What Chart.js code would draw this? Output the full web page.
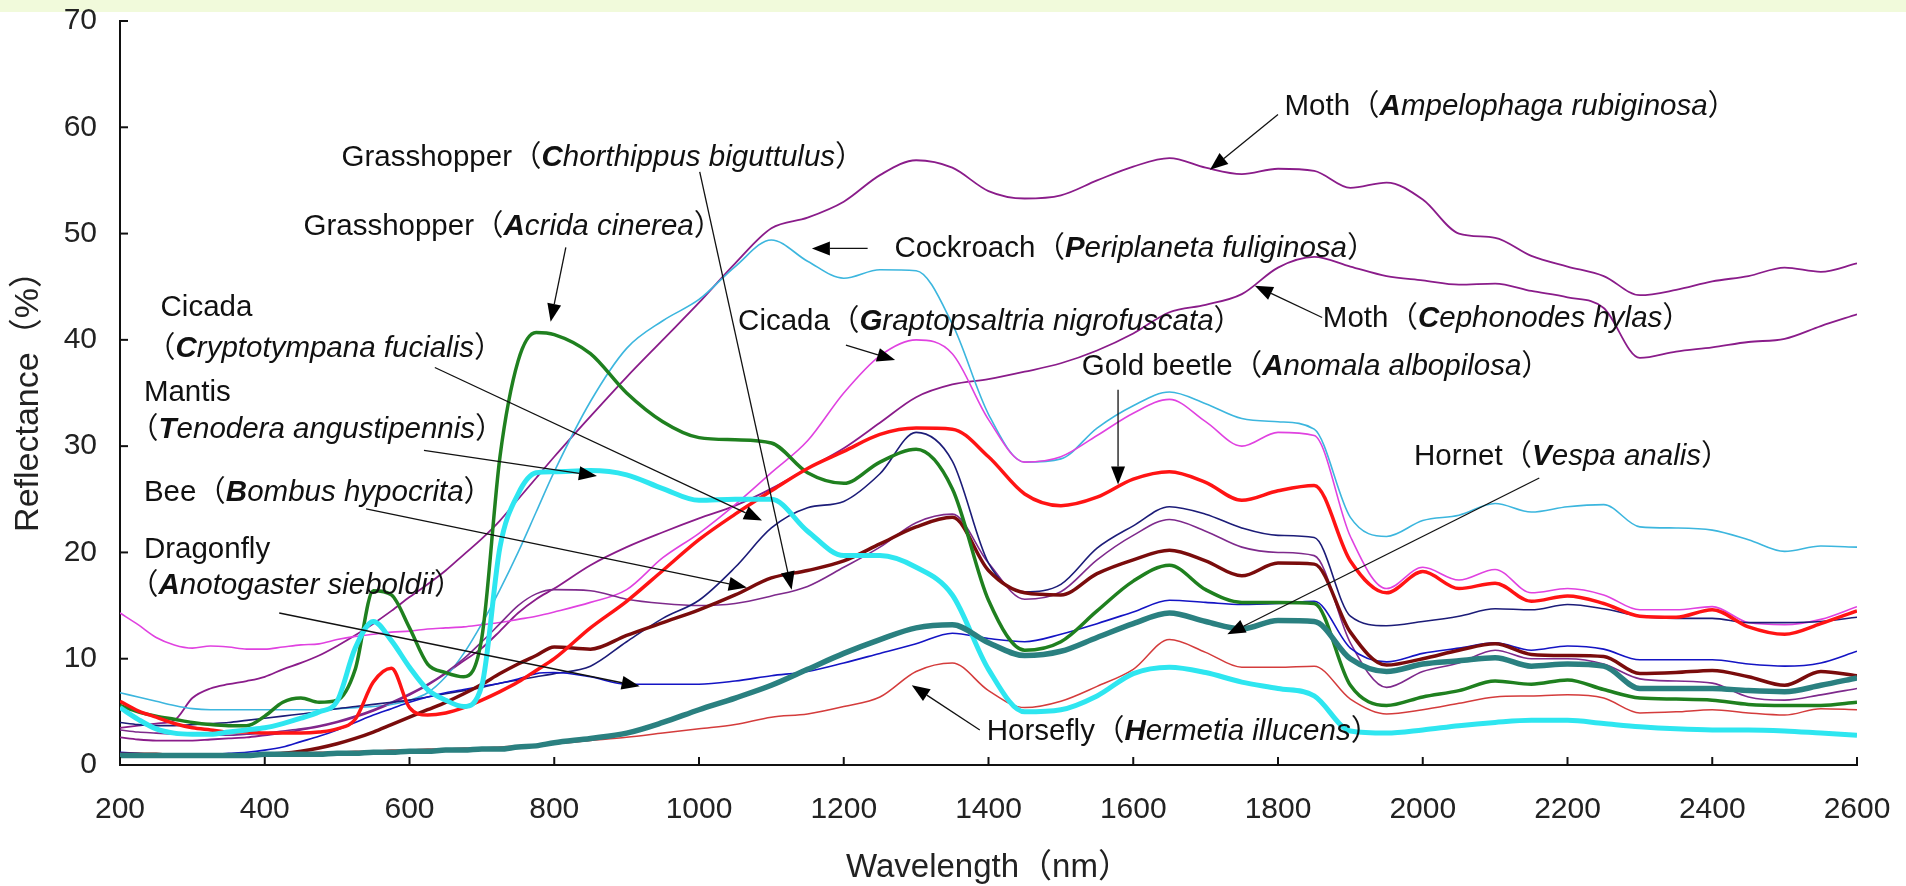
<!DOCTYPE html>
<html><head><meta charset="utf-8">
<script src="https://cdn.jsdelivr.net/npm/chart.js@4.4.1/dist/chart.umd.min.js"></script>
<style>
html,body{margin:0;padding:0;background:#ffffff;overflow:hidden;}
#band{position:absolute;left:0;top:0;width:1906px;height:12px;background:#f1fadb;z-index:0;}
#wrap{position:absolute;left:0;top:0;width:1906px;height:886px;z-index:1;}
</style></head><body>
<div id="band"></div>
<div id="wrap"><canvas id="c" width="1906" height="886"></canvas></div>
<script>
const wavelengths = [200,225,250,275,300,325,350,375,400,425,450,475,500,525,550,575,600,625,650,675,700,725,750,775,800,850,900,950,1000,1050,1100,1150,1200,1250,1300,1350,1400,1450,1500,1550,1600,1650,1700,1750,1800,1850,1900,1950,2000,2050,2100,2150,2200,2250,2300,2350,2400,2450,2500,2550,2600];
const xTicks = [200,400,600,800,1000,1200,1400,1600,1800,2000,2200,2400,2600];
const yTicks = [0,10,20,30,40,50,60,70];

const mothAmpelophaga = [3.5,3.7,3.9,4.2,6.3,7.2,7.6,7.9,8.3,9.0,9.6,10.3,11.2,12.2,13.3,14.5,15.8,17.0,18.3,19.8,21.3,23.0,25.0,27.0,29.0,32.8,36.5,40.0,43.5,47.2,50.5,51.5,53.0,55.5,56.9,56.2,54.0,53.3,53.6,55.0,56.3,57.1,56.2,55.6,56.1,55.9,54.3,54.8,53.2,50.0,49.6,47.9,46.9,46.0,44.2,44.7,45.5,46.0,46.8,46.4,47.2];
const mothCephonodes = [2.6,2.4,2.3,2.3,2.3,2.4,2.5,2.6,2.8,3.0,3.3,3.6,4.0,4.5,5.1,5.8,6.6,7.5,8.6,9.8,11.0,12.6,14.3,15.6,16.6,18.8,20.5,21.9,23.2,24.4,26.0,27.9,29.8,32.2,34.6,35.8,36.3,37.0,37.8,39.0,40.6,42.6,43.3,44.3,46.8,47.8,46.9,46.0,45.6,45.2,45.3,44.6,44.0,43.0,38.3,38.9,39.3,39.8,40.1,41.3,42.4];
const cockroach = [6.8,6.4,6.0,5.6,5.3,5.2,5.2,5.2,5.2,5.2,5.2,5.2,5.3,5.4,5.5,5.7,6.1,6.8,8.3,10.5,13.3,16.5,20.0,23.8,27.6,34.2,39.2,41.8,43.8,46.9,49.4,47.4,45.8,46.6,46.5,41.5,33.0,28.5,28.8,31.7,33.8,35.1,34.0,32.6,32.3,31.6,23.3,21.5,23.0,23.5,24.6,23.8,24.3,24.5,22.4,22.3,22.1,21.2,20.1,20.6,20.5];
const cicadaGraptopsaltria = [14.3,13.2,12.0,11.3,11.0,11.2,11.1,10.9,10.9,11.1,11.3,11.4,11.8,12.1,12.3,12.5,12.6,12.8,12.9,13.0,13.2,13.4,13.7,14.0,14.4,15.3,16.5,19.5,21.8,24.5,27.5,30.5,35.0,38.5,40.0,38.7,32.5,28.5,29.0,31.0,33.1,34.4,32.3,30.0,31.3,31.0,21.5,16.6,18.6,17.4,18.4,16.2,16.6,16.0,14.6,14.6,14.9,13.4,13.2,13.7,14.9];
const goldBeetle = [6.0,5.1,4.5,3.9,3.5,3.3,3.1,3.1,3.0,3.0,3.0,3.1,3.4,4.3,7.8,9.1,5.4,4.7,4.9,5.4,6.1,6.9,7.8,8.9,10.0,12.9,15.4,18.3,21.2,23.6,25.8,27.9,29.5,31.1,31.7,31.6,29.0,25.5,24.4,25.2,26.9,27.6,26.6,24.9,25.8,26.3,19.2,16.2,18.2,16.6,17.1,15.4,15.9,15.2,14.0,13.9,14.6,13.0,12.3,13.3,14.5];
const grasshopperAcrida = [5.6,5.0,4.6,4.3,4.0,3.8,3.7,3.7,4.6,5.9,6.3,5.9,6.1,9.0,16.4,16.0,12.9,9.5,8.7,8.3,12.0,29.0,38.0,40.7,40.5,38.7,35.0,32.3,30.8,30.6,30.3,27.5,26.5,28.5,29.7,26.0,15.5,10.8,11.6,14.5,17.3,18.8,16.5,15.3,15.3,15.2,7.5,5.6,6.4,7.0,7.9,7.6,8.0,7.1,6.3,6.2,6.1,5.7,5.6,5.6,5.9];
const mantis = [5.4,4.3,3.4,3.0,2.9,2.9,3.1,3.3,3.5,3.9,4.4,5.0,6.0,11.0,13.5,11.7,9.2,7.1,6.1,5.5,7.5,20.5,25.5,27.5,27.6,27.7,27.3,26.0,24.9,25.0,25.0,22.0,19.7,19.7,18.6,16.0,9.0,5.0,5.2,6.5,8.6,9.2,8.7,7.8,7.2,6.5,3.2,3.0,3.3,3.7,4.0,4.2,4.2,3.9,3.6,3.4,3.3,3.3,3.2,3.0,2.8];
const cicadaCryptotympana = [4.0,3.8,3.7,3.7,3.8,3.9,4.0,4.2,4.4,4.6,4.8,5.0,5.3,5.5,5.7,5.9,6.1,6.4,6.7,7.0,7.3,7.7,8.0,8.3,8.6,9.3,11.6,13.8,15.5,18.6,22.3,24.2,24.8,27.4,31.3,28.6,19.0,16.3,17.0,20.4,22.5,24.3,23.6,22.3,21.6,21.4,14.0,13.1,13.5,14.0,14.7,14.6,15.1,14.7,14.0,13.8,13.8,13.4,13.4,13.5,13.9];
const grasshopperChorthippus = [3.3,3.1,3.0,2.9,2.8,2.8,2.8,2.9,3.0,3.2,3.4,3.7,4.1,4.6,5.2,5.9,6.7,7.6,8.7,10.0,11.6,13.3,15.0,16.1,16.5,16.4,15.6,15.2,15.0,15.2,15.9,16.8,18.6,20.5,22.8,23.6,19.0,15.6,16.3,19.3,21.6,23.1,22.0,20.5,20.0,19.7,11.5,7.3,8.8,9.6,10.8,10.0,10.0,9.5,8.1,7.9,7.7,6.4,6.1,6.6,7.2];
const bee = [1.0,1.0,1.0,0.9,0.9,0.9,0.9,0.9,1.0,1.1,1.3,1.6,2.0,2.5,3.1,3.8,4.5,5.2,5.9,6.7,7.6,8.6,9.5,10.3,11.1,10.9,12.2,13.4,14.6,16.0,17.6,18.3,19.2,20.8,22.4,23.3,18.3,16.2,16.0,18.0,19.3,20.2,19.2,17.8,19.0,18.9,12.5,9.4,10.0,10.8,11.4,10.4,10.3,10.2,8.6,8.7,8.9,8.3,7.5,8.8,8.4];
const hornet = [0.9,0.9,0.9,0.9,0.9,0.9,0.9,0.9,1.0,1.0,1.0,1.0,1.1,1.1,1.2,1.2,1.3,1.3,1.4,1.4,1.5,1.5,1.7,1.8,2.1,2.5,3.0,4.0,5.2,6.3,7.5,9.0,10.5,11.8,12.9,13.2,11.5,10.3,10.7,12.0,13.3,14.3,13.5,12.8,13.6,13.5,10.0,8.8,9.5,9.8,10.1,9.3,9.5,9.3,7.2,7.2,7.2,7.0,6.9,7.5,8.2];
const horsefly = [1.0,1.0,1.0,1.0,1.0,1.0,1.0,1.0,1.1,1.1,1.1,1.2,1.2,1.3,1.3,1.4,1.4,1.5,1.5,1.6,1.6,1.7,1.8,1.9,2.0,2.3,2.6,3.0,3.4,3.8,4.5,4.8,5.5,6.4,8.8,9.6,7.0,5.4,6.0,7.4,9.0,11.8,10.6,9.2,9.2,9.3,6.2,4.8,5.2,5.8,6.4,6.5,6.6,6.3,4.9,5.0,5.2,4.9,4.7,5.3,5.2];
const dragonfly = [1.2,1.1,1.0,1.0,1.0,1.0,1.1,1.2,1.4,1.7,2.2,2.7,3.3,4.0,4.7,5.3,5.9,6.4,6.8,7.1,7.4,7.7,8.1,8.6,8.7,8.3,7.6,7.6,7.6,7.9,8.4,8.8,9.6,10.5,11.4,12.4,11.9,11.6,12.3,13.3,14.4,15.5,15.3,15.1,15.2,15.4,11.0,9.7,10.5,11.0,11.5,10.8,11.2,10.9,9.9,9.9,9.9,9.5,9.3,9.6,10.7];

// label text, anchor [wavelength, reflectance]
const labelTexts = ['Grasshopper（Chorthippus biguttulus）','Grasshopper（Acrida cinerea）','Cicada','（Cryptotympana fucialis）','Mantis','（Tenodera angustipennis）','Bee（Bombus hypocrita）','Dragonfly','（Anotogaster sieboldii）','Cockroach（Periplaneta fuliginosa）','Cicada（Graptopsaltria nigrofuscata）','Moth（Ampelophaga rubiginosa）','Moth（Cephonodes hylas）','Gold beetle（Anomala albopilosa）','Hornet（Vespa analis）','Horsefly（Hermetia illucens）'];
const labelX = [506,453.5,256,236,233,212.5,233,233,212.5,1270,1054,1809,1862,1529,1988,1397.5];
const labelY = [57.1,50.6,43.0,39.2,35.0,31.5,25.6,20.2,16.9,48.6,41.7,61.9,42.0,37.5,29.0,3.1];
// arrows: from [x,y] -> tip [x,y] in data units
const arrowFromX = [1001,816,635,620,540,420,1233,1203,1800,1861,1579,2161,1388];
const arrowFromY = [55.8,48.7,37.4,29.6,24.1,14.3,48.6,39.5,61.2,42.1,35.3,27.0,3.3];
const arrowToX = [1128,795,1087,859,1066,918,1156,1271,1706,1768,1579,1730,1294];
const arrowToY = [16.5,41.7,23.0,27.2,16.7,7.4,48.6,38.1,56.0,45.1,26.4,12.3,7.5];

const FONT = '"Liberation Sans", "Noto Sans CJK JP", sans-serif';
const LABEL_SIZE = 29.5;

function pts(vals){ return wavelengths.map((w,i)=>({x:w,y:vals[i]})); }
function ds(vals,color,width){ return {data:pts(vals),borderColor:color,backgroundColor:color,borderWidth:width,pointRadius:0,fill:false,cubicInterpolationMode:'monotone'}; }

const datasets = [
  ds(hornet,'#2a8080',5.5),
  ds(mantis,'#2ee6f0',5),
  ds(goldBeetle,'#ff1414',3.5),
  ds(grasshopperAcrida,'#1f801f',3.5),
  ds(bee,'#7a0c0c',3.5),
  ds(horsefly,'#d43c3c',1.5),
  ds(dragonfly,'#1414c4',1.6),
  ds(cicadaCryptotympana,'#1c1c78',1.6),
  ds(grasshopperChorthippus,'#7e2a8c',1.6),
  ds(cicadaGraptopsaltria,'#e042e0',1.6),
  ds(cockroach,'#3cb6de',1.6),
  ds(mothCephonodes,'#8a1c8a',1.8),
  ds(mothAmpelophaga,'#8a1c8a',1.8)
];

function drawLabel(ctx,text,x,y){
  const m = text.match(/^(.*?)（(.*)）$/);
  const segs = [];
  if(m){
    if(m[1]) segs.push([m[1],'']);
    segs.push(['（','']);
    segs.push([m[2][0],'bold italic ']);
    segs.push([m[2].slice(1),'italic ']);
    segs.push(['）','']);
  } else segs.push([text,'']);
  ctx.textBaseline='middle'; ctx.textAlign='left'; ctx.fillStyle='#111';
  for(const [t,st] of segs){
    ctx.font = st + LABEL_SIZE + 'px ' + FONT;
    ctx.fillText(t,x,y);
    x += ctx.measureText(t).width;
  }
}
function arrow(ctx,x1,y1,x2,y2){
  const a = Math.atan2(y2-y1,x2-x1), L=18, W=7;
  const bx = x2 - L*Math.cos(a), by = y2 - L*Math.sin(a);
  ctx.strokeStyle='#111'; ctx.lineWidth=1.3;
  ctx.beginPath(); ctx.moveTo(x1,y1); ctx.lineTo(bx,by); ctx.stroke();
  ctx.fillStyle='#000';
  ctx.beginPath(); ctx.moveTo(x2,y2);
  ctx.lineTo(bx + W*Math.sin(a), by - W*Math.cos(a));
  ctx.lineTo(bx - W*Math.sin(a), by + W*Math.cos(a));
  ctx.closePath(); ctx.fill();
}

const overlay = {
  id:'overlay',
  afterDraw(chart){
    const {ctx, scales:{x,y}} = chart;
    ctx.save();
    ctx.strokeStyle='#111'; ctx.lineWidth=2;
    yTicks.forEach(v=>{ const py=y.getPixelForValue(v); ctx.beginPath(); ctx.moveTo(x.left,py); ctx.lineTo(x.left+8,py); ctx.stroke(); });
    xTicks.forEach(v=>{ const px=x.getPixelForValue(v); ctx.beginPath(); ctx.moveTo(px,y.bottom); ctx.lineTo(px,y.bottom-8); ctx.stroke(); });
    for(let i=0;i<arrowFromX.length;i++){
      arrow(ctx,x.getPixelForValue(arrowFromX[i]),y.getPixelForValue(arrowFromY[i]),x.getPixelForValue(arrowToX[i]),y.getPixelForValue(arrowToY[i]));
    }
    for(let i=0;i<labelTexts.length;i++){
      drawLabel(ctx,labelTexts[i],x.getPixelForValue(labelX[i]),y.getPixelForValue(labelY[i]));
    }
    ctx.restore();
  }
};

new Chart(document.getElementById('c'),{
  type:'line',
  data:{datasets},
  options:{
    responsive:false, animation:false, devicePixelRatio:1,
    layout:{padding:{top:21,right:49,left:0,bottom:0}},
    plugins:{legend:{display:false},tooltip:{enabled:false}},
    scales:{
      x:{type:'linear',min:200,max:2600,
        ticks:{stepSize:200,autoSkip:false,maxRotation:0,padding:27,color:'#222',font:{family:FONT,size:30},callback:v=>String(v)},
        grid:{display:false,drawTicks:false},
        border:{display:true,color:'#111',width:2},
        title:{display:true,text:'Wavelength（nm）',color:'#222',font:{family:FONT,size:33},padding:{top:0,bottom:-2}},
        afterFit(s){s.height=121; s.paddingLeft=0; s.paddingRight=0;}
      },
      y:{min:0,max:70,
        ticks:{stepSize:10,padding:23,color:'#222',font:{family:FONT,size:30},callback:v=>String(v)},
        grid:{display:false,drawTicks:false},
        border:{display:true,color:'#111',width:2},
        title:{display:true,text:'Reflectance（%）',color:'#222',font:{family:FONT,size:34},padding:{top:8,bottom:0}},
        afterFit(s){s.width=120; s.paddingTop=0; s.paddingBottom=0;}
      }
    }
  },
  plugins:[overlay]
});
</script>
</body></html>
